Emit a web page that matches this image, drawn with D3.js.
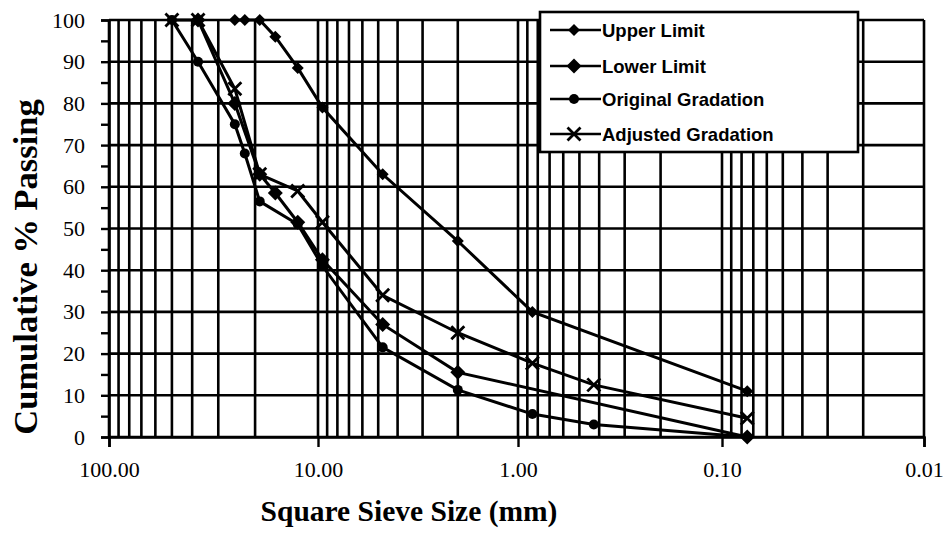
<!DOCTYPE html>
<html>
<head>
<meta charset="utf-8">
<script src="https://cdn.jsdelivr.net/npm/d3@7"></script>
<style>
  html, body { margin: 0; padding: 0; background: #fff; }
  svg { display: block; }
</style>
</head>
<body>
<svg id="chart" width="949" height="546"></svg>
<script>
// ---- Data (sieve size in mm, cumulative % passing) ----
const upperSizes   = [25, 22.4, 19, 16, 12.5, 9.5, 4.75, 2.0, 0.85, 0.075];
const upperValues  = [100, 100, 100, 96, 88.5, 79, 63, 47, 30, 11];

const lowerSizes   = [37.5, 25, 19, 16, 12.5, 9.5, 4.75, 2.0, 0.075];
const lowerValues  = [100, 80, 63, 58.5, 51.5, 42.5, 27, 15.5, 0];

const originalSizes  = [50, 37.5, 25, 22.4, 19, 12.5, 9.5, 4.75, 2.0, 0.85, 0.425, 0.075];
const originalValues = [100, 90, 75, 68, 56.5, 51, 41, 21.5, 11.3, 5.5, 3, 0];

const adjustedSizes  = [50, 37.5, 25, 19, 12.5, 9.5, 4.75, 2.0, 0.85, 0.425, 0.075];
const adjustedValues = [100, 100, 83.5, 63, 59, 51.5, 34, 25, 17.7, 12.5, 4.5];

const xTickValues = [100, 10, 1, 0.1, 0.01];
const yTickValues = [0, 10, 20, 30, 40, 50, 60, 70, 80, 90, 100];

const seriesNames = ["Upper Limit", "Lower Limit", "Original Gradation", "Adjusted Gradation"];

// ---- Layout ----
const svg = d3.select("#chart");
const x = d3.scaleLog().domain([100, 10, 1, 0.1, 0.01]).range([109, 318, 518, 722, 924]);
const y = d3.scaleLinear().domain([0, 100]).range([437, 20]);

// gridlines
const grid = svg.append("g").attr("stroke", "#000").attr("stroke-width", 2.6).attr("fill", "none");
const minorX = [];
[10, 1, 0.1, 0.01].forEach(dec => { for (let k = 1; k <= 9; k++) minorX.push(dec * k); });
minorX.push(100);
grid.selectAll("line.v").data(minorX).join("line")
  .attr("x1", d => x(d)).attr("x2", d => x(d))
  .attr("y1", y(0)).attr("y2", y(100));
grid.selectAll("line.h").data(yTickValues).join("line")
  .attr("x1", x(100)).attr("x2", x(0.01))
  .attr("y1", d => y(d)).attr("y2", d => y(d));

// axes
const yAxis = d3.axisLeft(y)
  .tickValues(d3.range(0, 101, 5))
  .tickSize(8).tickPadding(16)
  .tickFormat(d => d % 10 === 0 ? d : "");
const gy = svg.append("g").attr("transform", `translate(${x(100)},0)`).call(yAxis);
gy.select(".domain").attr("stroke-width", 2.6);
gy.selectAll(".tick line").attr("stroke-width", 2.4);
gy.selectAll("text").attr("font-family", "Liberation Serif, Times New Roman, serif")
  .attr("font-size", 22).attr("fill", "#000");

const xAxis = d3.axisBottom(x).tickValues(xTickValues).tickSize(10).tickPadding(14)
  .tickFormat(d3.format(".2f"));
const gx = svg.append("g").attr("transform", `translate(0,${y(0)})`).call(xAxis);
gx.select(".domain").attr("stroke-width", 2.6);
gx.selectAll(".tick line").attr("stroke-width", 2.4);
gx.selectAll("text").attr("font-family", "Liberation Serif, Times New Roman, serif")
  .attr("font-size", 22).attr("fill", "#000");

// axis titles
svg.append("text")
  .attr("x", 409).attr("y", 521)
  .attr("text-anchor", "middle")
  .attr("font-family", "Liberation Serif, Times New Roman, serif")
  .attr("font-weight", "bold").attr("font-size", 29.5)
  .text("Square Sieve Size (mm)");
svg.append("text")
  .attr("transform", "translate(37,267) rotate(-90)")
  .attr("text-anchor", "middle")
  .attr("font-family", "Liberation Serif, Times New Roman, serif")
  .attr("font-weight", "bold").attr("font-size", 34.5)
  .text("Cumulative % Passing");

// markers
function diamond(cx, cy, r) {
  return `M${cx},${cy - r}L${cx + r},${cy}L${cx},${cy + r}L${cx - r},${cy}Z`;
}
function drawMarker(g, type, cx, cy) {
  if (type === "smallDiamond") {
    g.append("path").attr("d", diamond(cx, cy, 6)).attr("fill", "#000");
  } else if (type === "bigDiamond") {
    g.append("path").attr("d", diamond(cx, cy, 7.5)).attr("fill", "#000");
  } else if (type === "circle") {
    g.append("circle").attr("cx", cx).attr("cy", cy).attr("r", 5).attr("fill", "#000");
  } else if (type === "cross") {
    const s = 6.5;
    g.append("path").attr("d", `M${cx - s},${cy - s}L${cx + s},${cy + s}M${cx - s},${cy + s}L${cx + s},${cy - s}`)
      .attr("stroke", "#000").attr("stroke-width", 2.8).attr("fill", "none");
  }
}

const series = [
  { name: seriesNames[0], sizes: upperSizes, values: upperValues, marker: "smallDiamond" },
  { name: seriesNames[1], sizes: lowerSizes, values: lowerValues, marker: "bigDiamond" },
  { name: seriesNames[2], sizes: originalSizes, values: originalValues, marker: "circle" },
  { name: seriesNames[3], sizes: adjustedSizes, values: adjustedValues, marker: "cross" }
];

const line = d3.line().x(d => x(d[0])).y(d => y(d[1]));
series.forEach(s => {
  const pts = s.sizes.map((d, i) => [d, s.values[i]]);
  const g = svg.append("g");
  g.append("path").attr("d", line(pts)).attr("fill", "none").attr("stroke", "#000").attr("stroke-width", 3);
  pts.forEach(p => drawMarker(g, s.marker, x(p[0]), y(p[1])));
});

// legend
const lg = svg.append("g");
lg.append("rect").attr("x", 540).attr("y", 12).attr("width", 318).attr("height", 140)
  .attr("fill", "#fff").attr("stroke", "#000").attr("stroke-width", 2.6);
const rowsY = [30, 66, 99, 134];
series.forEach((s, i) => {
  const ry = rowsY[i];
  lg.append("line").attr("x1", 550).attr("x2", 601).attr("y1", ry).attr("y2", ry)
    .attr("stroke", "#000").attr("stroke-width", 2.6);
  drawMarker(lg, s.marker, 574, ry);
  lg.append("text").attr("x", 602).attr("y", ry).attr("dy", "0.36em")
    .attr("font-family", "Liberation Sans, Arial, sans-serif")
    .attr("font-weight", "bold").attr("font-size", 18.5).attr("fill", "#000")
    .text(s.name);
});
</script>
</body>
</html>
